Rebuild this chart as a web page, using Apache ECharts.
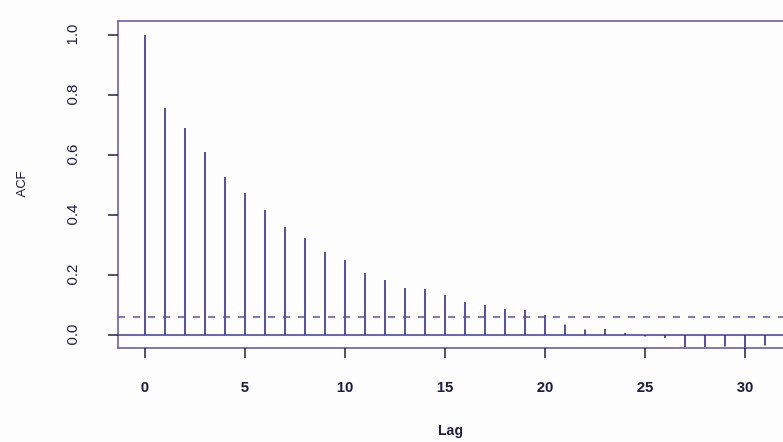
<!DOCTYPE html>
<html>
<head>
<meta charset="utf-8">
<script src="https://cdn.jsdelivr.net/npm/echarts@6/dist/echarts.min.js"></script>
<style>
html,body{margin:0;padding:0;background:#fdfdfe;}
#chart{width:783px;height:442px;}
</style>
</head>
<body>
<div id="chart"></div>
<script>
// Lags and autocorrelation values
var lags = [0,1,2,3,4,5,6,7,8,9,10,11,12,13,14,15,16,17,18,19,20,21,22,23,24,25,26,27,28,29,30,31];
var acfValues = [1.0,0.757,0.69,0.61,0.527,0.473,0.417,0.36,0.323,0.277,0.25,0.207,0.183,0.157,0.153,0.133,0.11,0.1,0.087,0.083,0.067,0.035,0.018,0.02,0.007,-0.005,-0.01,-0.04,-0.04,-0.038,-0.045,-0.035];
var confBound = 0.06;
var xTicks = [0,5,10,15,20,25,30];
var yTicks = [0,0.2,0.4,0.6,0.8,1.0];

var lineColor = '#5852a3';
var textColor = '#1c1b45';

var barData = lags.map(function(l,i){ return [l, acfValues[i]]; });

var chart = echarts.init(document.getElementById('chart'));
chart.setOption({
  animation: false,
  backgroundColor: '#fdfdfe',
  grid: {left: 118, top: 21, right: 0, bottom: 94, containLabel: false, outerBoundsMode: 'none'},
  xAxis: [{
    type: 'value', min: -1.35, max: 31.9,
    name: 'Lag', nameLocation: 'middle', nameGap: 76,
    nameTextStyle: {fontSize: 14, fontWeight: 'bold', color: textColor, fontFamily: 'Liberation Sans'},
    axisLine: {show: true, onZero: false, lineStyle: {color: lineColor, width: 1.5}},
    axisTick: {show: true, length: 10, customValues: xTicks, lineStyle: {color: textColor, width: 1.5}},
    axisLabel: {customValues: xTicks, margin: 32, fontSize: 15, fontWeight: 'bold', color: textColor, fontFamily: 'Liberation Sans'},
    splitLine: {show: false}
  }, {
    type: 'value', position: 'top', min: -1.35, max: 31.9,
    axisLine: {show: true, onZero: false, lineStyle: {color: lineColor, width: 1.5}},
    axisTick: {show: false}, axisLabel: {show: false}, splitLine: {show: false}
  }],
  yAxis: {
    type: 'value', min: -0.0433, max: 1.0467,
    name: 'ACF', nameLocation: 'middle', nameGap: 90, nameRotate: 90,
    nameTextStyle: {fontSize: 13, color: textColor, fontFamily: 'Liberation Sans'},
    axisLine: {show: true, onZero: false, lineStyle: {color: lineColor, width: 1.5}},
    axisTick: {show: true, length: 10, customValues: yTicks, lineStyle: {color: textColor, width: 1.5}},
    axisLabel: {customValues: yTicks, rotate: 90, margin: 38, fontSize: 15, color: textColor, fontFamily: 'Liberation Sans',
      formatter: function(v){ return v.toFixed(1); }},
    splitLine: {show: false}
  },
  series: [{
    type: 'bar',
    data: barData,
    barWidth: 2,
    itemStyle: {color: lineColor},
    markLine: {
      silent: true, symbol: 'none', label: {show: false},
      data: [
        {yAxis: 0, lineStyle: {type: 'solid', color: '#3d3890', width: 1.5}},
        {yAxis: confBound, lineStyle: {type: [7, 8], color: lineColor, width: 1.5}}
      ]
    }
  }]
});
</script>
</body>
</html>
